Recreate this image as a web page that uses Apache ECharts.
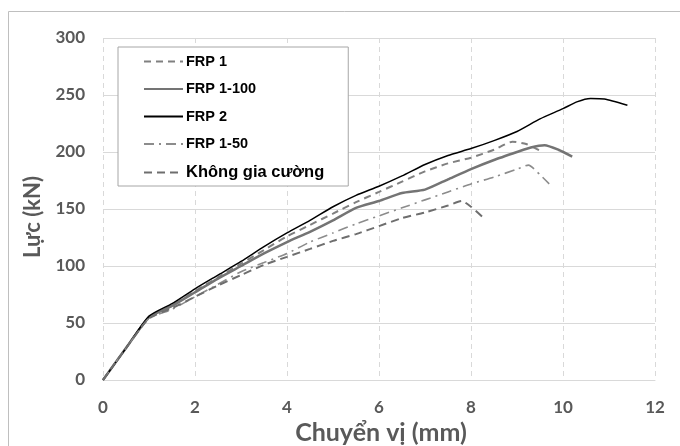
<!DOCTYPE html>
<html>
<head>
<meta charset="utf-8">
<script src="https://cdn.jsdelivr.net/npm/echarts@6/dist/echarts.min.js"></script>
<style>
html,body{margin:0;padding:0;background:#fff;}
#chart{width:680px;height:446px;}
</style>
</head>
<body>
<div id="chart"></div>
<script>
// Displacement (mm) and force (kN) for each specimen
var frp1X   = [0, 0.5, 1.0, 1.5, 2, 2.5, 3, 3.5, 4, 4.5, 5, 5.5, 6, 6.5, 7, 7.5, 8, 8.5, 8.9, 9.2, 9.55];
var frp1Y   = [0, 28, 55, 65, 78, 90, 102, 114, 126, 136, 146, 156, 165, 174, 183, 190, 195, 202, 209, 207, 200];

var frp1_100X = [0, 0.5, 1.0, 1.5, 2, 2.5, 3, 3.5, 4, 4.5, 5, 5.5, 6, 6.5, 7, 7.5, 8, 8.5, 9, 9.3, 9.6, 9.9, 10.2];
var frp1_100Y = [0, 28, 55, 65, 77, 89, 100, 111, 121, 130, 140, 151, 157, 164, 167, 176, 185, 193, 200, 204, 206, 202, 196];

var frp2X   = [0, 0.5, 1.0, 1.5, 2, 2.5, 3, 3.5, 4, 4.5, 5, 5.5, 6, 6.5, 7, 7.5, 8, 8.5, 9, 9.5, 10, 10.3, 10.6, 10.9, 11.4];
var frp2Y   = [0, 28, 56, 67, 80, 92, 104, 117, 129, 140, 152, 162, 170, 179, 189, 197, 203, 210, 218, 229, 238, 244, 247, 246.5, 241];

var frp1_50X = [0, 0.5, 1.0, 1.5, 2, 2.5, 3, 3.5, 4, 4.5, 5, 5.5, 6, 6.5, 7, 7.5, 8, 8.5, 9, 9.25, 9.5, 9.7];
var frp1_50Y = [0, 28, 54, 62, 73, 84, 95, 103, 111, 121, 129, 137, 144, 151, 158, 165, 172, 178, 185, 188.5, 180, 172];

var khongX  = [0, 0.5, 1.0, 1.5, 2, 2.5, 3, 3.5, 4, 4.5, 5, 5.5, 6, 6.5, 7, 7.5, 7.8, 8.0, 8.25];
var khongY  = [0, 28, 54, 63, 73, 83, 92, 101, 108, 115, 122, 128, 135, 142, 147, 153, 157, 152, 143];

var seriesNames = ['FRP 1', 'FRP 1-100', 'FRP 2', 'FRP 1-50', 'Không gia cường'];
var xTicks = [0, 2, 4, 6, 8, 10, 12];
var yTicks = [0, 50, 100, 150, 200, 250, 300];

function zip(xs, ys) { return xs.map(function (x, i) { return [x, ys[i]]; }); }

var chart = echarts.init(document.getElementById('chart'), null, {renderer: 'canvas'});
var axisFont = 'Lato';
var option = {
  backgroundColor: '#ffffff',
  animation: false,
  grid: {left: 103, right: 25, top: 38, bottom: 66, containLabel: false},
  xAxis: {
    type: 'value', min: xTicks[0], max: xTicks[xTicks.length - 1], interval: 2,
    axisLine: {show: true, lineStyle: {color: '#d9d9d9', width: 1}},
    axisTick: {show: false},
    splitLine: {show: true, lineStyle: {color: '#d9d9d9', type: [5, 4], width: 1}},
    axisLabel: {color: '#595959', fontFamily: axisFont, fontWeight: 'bold', fontSize: 17, margin: 19}
  },
  yAxis: {
    type: 'value', min: yTicks[0], max: yTicks[yTicks.length - 1], interval: 50,
    axisLine: {show: false},
    axisTick: {show: false},
    splitLine: {show: true, lineStyle: {color: '#d9d9d9', width: 1}},
    axisLabel: {color: '#595959', fontFamily: axisFont, fontWeight: 'bold', fontSize: 17, margin: 18}
  },
  legend: {
    orient: 'vertical', left: 118, top: 47,
    padding: [7, 24, 5, 25],
    itemWidth: 39, itemHeight: 14, itemGap: 12.5,
    backgroundColor: '#ffffff', borderColor: '#a6a6a6', borderWidth: 1, borderRadius: 0,
    selectedMode: false,
    itemStyle: {opacity: 0, color: 'rgba(0,0,0,0)', borderColor: 'rgba(0,0,0,0)', borderWidth: 0},
    textStyle: {color: '#000', fontFamily: 'Liberation Sans', fontWeight: 'bold', fontSize: 14.5, padding: [0, 0, 0, -2]},
    data: [
      {name: seriesNames[0]},
      {name: seriesNames[1]},
      {name: seriesNames[2]},
      {name: seriesNames[3]},
      {name: seriesNames[4], textStyle: {fontSize: 16.5}}
    ]
  },
  graphic: [
    {type: 'rect', shape: {x: 8.5, y: 11.5, width: 700, height: 500}, style: {fill: 'none', stroke: '#bfbfbf', lineWidth: 1}, z: -1, silent: true},
    {type: 'text', x: 381, y: 433, style: {text: 'Chuyển vị (mm)', fill: '#595959', font: 'bold 25px Lato', textAlign: 'center', textVerticalAlign: 'middle'}},
    {type: 'text', x: 33, y: 217, rotation: Math.PI / 2, style: {text: 'Lực (kN)', fill: '#595959', font: 'bold 22px Lato', textAlign: 'center', textVerticalAlign: 'middle'}}
  ],
  series: [
    {name: seriesNames[0], type: 'line', data: zip(frp1X, frp1Y), symbol: 'none', smooth: 0.2,
     lineStyle: {color: '#808080', width: 2, type: [7, 5]}, itemStyle: {color: '#808080'}},
    {name: seriesNames[1], type: 'line', data: zip(frp1_100X, frp1_100Y), symbol: 'none', smooth: 0.2,
     lineStyle: {color: '#747474', width: 2.5, type: 'solid'}, itemStyle: {color: '#747474'}},
    {name: seriesNames[2], type: 'line', data: zip(frp2X, frp2Y), symbol: 'none', smooth: 0.2,
     lineStyle: {color: '#000000', width: 1.5, type: 'solid'}, itemStyle: {color: '#000000'}},
    {name: seriesNames[3], type: 'line', data: zip(frp1_50X, frp1_50Y), symbol: 'none', smooth: 0.2,
     lineStyle: {color: '#8c8c8c', width: 1.6, type: [10, 5, 2, 5]}, itemStyle: {color: '#8c8c8c'}},
    {name: seriesNames[4], type: 'line', data: zip(khongX, khongY), symbol: 'none', smooth: 0.2,
     lineStyle: {color: '#6e6e6e', width: 2, type: [8, 5]}, itemStyle: {color: '#6e6e6e'}}
  ]
};
chart.setOption(option);
</script>
</body>
</html>
